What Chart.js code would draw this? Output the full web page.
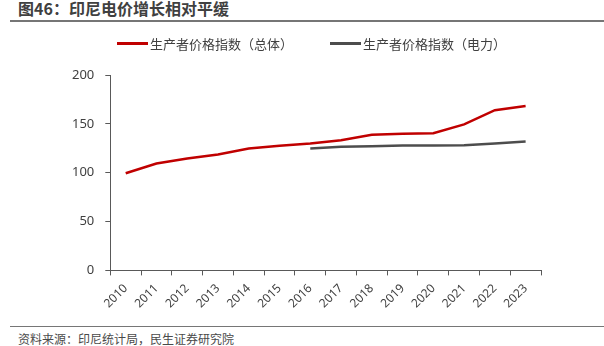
<!DOCTYPE html>
<html>
<head>
<meta charset="utf-8">
<script src="https://cdn.jsdelivr.net/npm/chart.js@4/dist/chart.umd.min.js"></script>
<style>
    html, body { margin: 0; padding: 0; background: #fff; }
    body { width: 604px; height: 346px; position: relative; overflow: hidden; font-family: "Noto Sans CJK SC", "Noto Sans", sans-serif; }
    #title { position: absolute; left: 18px; top: -2px; font-size: 16px; font-weight: bold; color: #404040; line-height: 20px; }
    #title-rule { position: absolute; left: 10px; right: 0; top: 20px; height: 2px; background: #767676; }
    #legend { position: absolute; top: 34px; height: 18px; left: 0; right: 0; }
    .legend-item { position: absolute; top: 0; display: flex; align-items: center; height: 18px; font-size: 13px; color: #404040; white-space: nowrap; }
    .legend-swatch { width: 31px; height: 3px; margin-right: 2px; }
    #chart-wrap { position: absolute; left: 0; top: 28px; width: 604px; height: 289px; }
    #foot-rule { position: absolute; left: 10px; right: 0; top: 326px; height: 1px; background: #767676; }
    #source { position: absolute; left: 18px; top: 331px; font-size: 12px; color: #4a4a4a; line-height: 16px; }
</style>
</head>
<body>
<div id="title">图46：印尼电价增长相对平缓</div>
<div id="title-rule"></div>
<div id="chart-wrap"><canvas id="chart-ppi"></canvas></div>
<div id="legend"></div>
<div id="foot-rule"></div>
<div id="source">资料来源：印尼统计局，民生证券研究院</div>
<script>
const years = ['2010', '2011', '2012', '2013', '2014', '2015', '2016', '2017', '2018', '2019', '2020', '2021', '2022', '2023'];
const ppiTotal = [99.5, 109.4, 114.6, 118.7, 124.8, 127.5, 130, 133.3, 138.8, 139.8, 140.5, 149.4, 164, 168.2];
const ppiPower = [null, null, null, null, null, null, 124.8, 126.5, 127.2, 127.9, 127.9, 128.2, 130, 132];
const seriesNames = ['生产者价格指数（总体）', '生产者价格指数（电力）'];
const yTicks = [0, 50, 100, 150, 200];

const red = '#c00000';
const grey = '#4d4d4d';
const axisColor = '#595959';
const legendLeft = [117, 330];

const chart = new Chart(document.getElementById('chart-ppi'), {
    type: 'line',
    data: {
        labels: years,
        datasets: [{
            label: seriesNames[0],
            data: ppiTotal,
            borderColor: red,
            backgroundColor: red,
            borderWidth: 2.5,
            pointRadius: 0,
            tension: 0,
        }, {
            label: seriesNames[1],
            data: ppiPower,
            borderColor: grey,
            backgroundColor: grey,
            borderWidth: 2.5,
            pointRadius: 0,
            tension: 0,
        }],
    },
    options: {
        responsive: true,
        maintainAspectRatio: false,
        animation: false,
        layout: { padding: { left: 61, right: 63, top: 47, bottom: 0 } },
        plugins: {
            tooltip: { enabled: false },
            legend: { display: false },
        },
        scales: {
            x: {
                offset: true,
                grid: {
                    display: true,
                    drawOnChartArea: false,
                    offset: true,
                    color: axisColor,
                    tickLength: 5,
                },
                border: { color: axisColor, width: 1 },
                ticks: {
                    color: '#404040',
                    font: { size: 12, family: '"Noto Sans", sans-serif' },
                    maxRotation: 45,
                    minRotation: 45,
                    autoSkip: false,
                    padding: 6,
                },
            },
            y: {
                min: 0,
                max: 200,
                afterBuildTicks: (axis) => {
                    axis.ticks = yTicks.map((value) => ({ value }));
                },
                grid: {
                    display: true,
                    drawOnChartArea: false,
                    color: axisColor,
                    tickLength: 5,
                },
                border: { color: axisColor, width: 1 },
                ticks: {
                    color: '#404040',
                    font: { size: 13, family: '"Noto Sans", sans-serif' },
                    padding: 11,
                },
            },
        },
    },
});

// legend row built from the chart's own datasets
const legendEl = document.getElementById('legend');
chart.data.datasets.forEach((ds, i) => {
    const item = document.createElement('div');
    item.className = 'legend-item';
    item.style.left = legendLeft[i] + 'px';
    const swatch = document.createElement('span');
    swatch.className = 'legend-swatch';
    swatch.style.background = ds.borderColor;
    item.appendChild(swatch);
    item.appendChild(document.createTextNode(ds.label));
    legendEl.appendChild(item);
});
</script>
</body>
</html>
